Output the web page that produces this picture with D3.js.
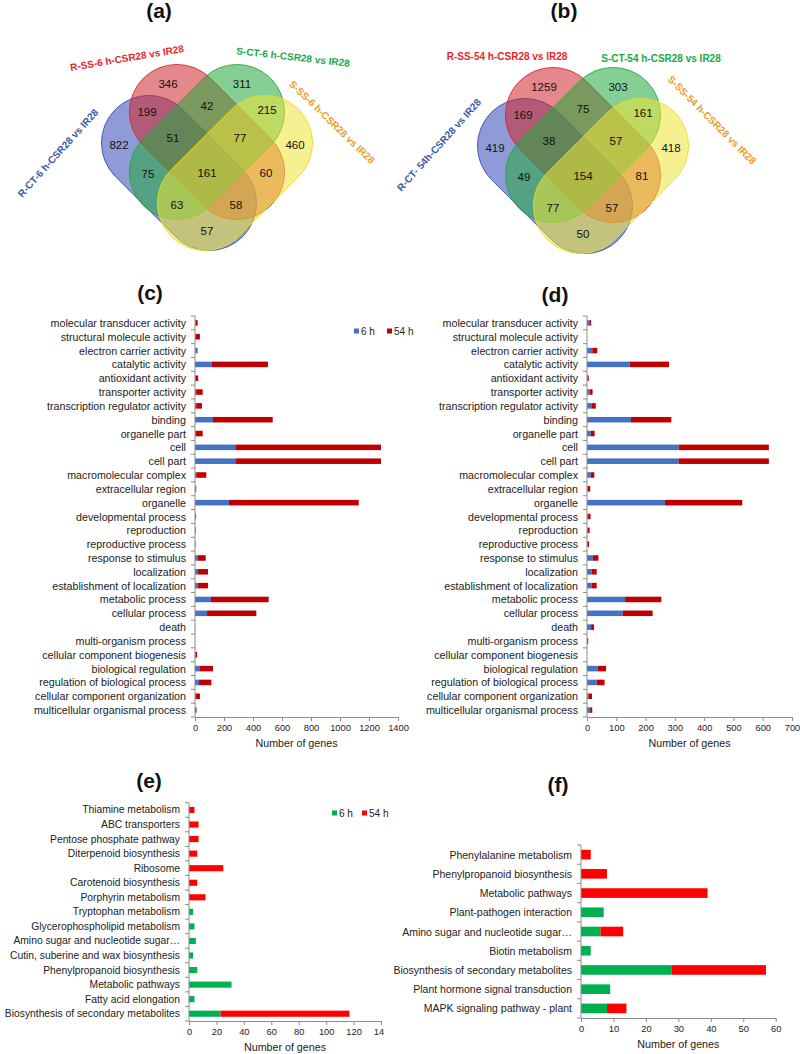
<!DOCTYPE html>
<html>
<head>
<meta charset="utf-8">
<script src="https://cdn.jsdelivr.net/npm/d3@7"></script>
<style>
  body { margin: 0; background: #fff; }
  svg { display: block; font-family: "Liberation Sans", Arial, sans-serif; }
</style>
</head>
<body>
<svg id="fig" width="800" height="1054"></svg>
<script>
// ---------- data ----------
// venn regions: A = R-CT, B = R-SS, C = S-CT, D = S-SS
const vennRegions = ["A", "B", "C", "D", "AB", "BC", "CD", "AC", "BD", "AD", "ABC", "BCD", "ACD", "ABD", "ABCD"];
const vennCountsA = [822, 346, 311, 460, 199, 42, 215, 75, 60, 57, 51, 77, 63, 58, 161];
const vennCountsB = [419, 1259, 303, 418, 169, 75, 161, 49, 81, 50, 38, 57, 77, 57, 154];
const vennSetNamesA = ["R-CT-6 h-CSR28 vs IR28", "R-SS-6 h-CSR28 vs IR28", "S-CT-6 h-CSR28 vs IR28", "S-SS-6 h-CSR28 vs IR28"];
const vennSetNamesB = ["R-CT- 54h-CSR28 vs IR28", "R-SS-54 h-CSR28 vs IR28", "S-CT-54 h-CSR28 vs IR28", "S-SS-54 h-CSR28 vs IR28"];

const goCategories = [
  "molecular transducer activity", "structural molecule activity", "electron carrier activity",
  "catalytic activity", "antioxidant activity", "transporter activity", "transcription regulator activity",
  "binding", "organelle part", "cell", "cell part", "macromolecular complex", "extracellular region",
  "organelle", "developmental process", "reproduction", "reproductive process", "response to stimulus",
  "localization", "establishment of localization", "metabolic process", "cellular process", "death",
  "multi-organism process", "cellular component biogenesis", "biological regulation",
  "regulation of biological process", "cellular component organization", "multicellular organismal process"
];
const go6hC  = [3, 2, 15, 117, 2, 8, 8, 124, 5, 278, 278, 9, 8, 234, 8, 6, 5, 18, 21, 21, 110, 83, 2, 1, 2, 30, 28, 4, 12];
const go54hC = [15, 32, 3, 386, 20, 45, 40, 412, 48, 1005, 1005, 69, 1, 895, 0, 0, 0, 56, 69, 69, 398, 340, 0, 0, 12, 94, 85, 30, 0];
const go6hD  = [8, 0, 18, 146, 1, 9, 15, 150, 13, 313, 313, 13, 2, 266, 4, 2, 1, 20, 16, 16, 130, 122, 14, 0, 0, 36, 33, 5, 11];
const go54hD = [6, 0, 17, 134, 5, 10, 15, 138, 13, 308, 308, 12, 9, 264, 8, 7, 6, 19, 17, 17, 124, 102, 10, 4, 0, 29, 27, 12, 7];

const keggCatsE = [
  "Thiamine metabolism", "ABC transporters", "Pentose phosphate pathway", "Diterpenoid biosynthesis",
  "Ribosome", "Carotenoid biosynthesis", "Porphyrin metabolism", "Tryptophan metabolism",
  "Glycerophospholipid metabolism", "Amino sugar and nucleotide sugar\u2026", "Cutin, suberine and wax biosynthesis",
  "Phenylpropanoid biosynthesis", "Metabolic pathways", "Fatty acid elongation", "Biosynthesis of secondary metabolites"
];
const kegg6hE  = [0, 0, 0, 0, 0, 0, 0, 3, 4, 5, 3, 6, 31, 4, 23];
const kegg54hE = [4, 7, 7, 6, 25, 6, 12, 0, 0, 0, 0, 0, 0, 0, 94];

const keggCatsF = [
  "Phenylalanine metabolism", "Phenylpropanoid biosynthesis", "Metabolic pathways", "Plant-pathogen interaction",
  "Amino sugar and nucleotide sugar\u2026", "Biotin metabolism", "Biosynthesis of secondary metabolites",
  "Plant hormone signal transduction", "MAPK signaling pathway - plant"
];
const kegg6hF  = [0, 0, 0, 7, 6, 3, 28, 9, 8];
const kegg54hF = [3, 8, 39, 0, 7, 0, 29, 0, 6];

const ticksC = d3.range(0, 1401, 200);
const ticksD = d3.range(0, 701, 100);
const ticksE = d3.range(0, 141, 20);
const ticksF = d3.range(0, 61, 10);

// ---------- drawing ----------
const svg = d3.select("#fig");
const textCol = "#222";
const axisCol = "#8c8c8c";

function title(txt, x, y) {
  svg.append("text").attr("x", x).attr("y", y).attr("text-anchor", "middle")
    .attr("font-size", "21px").attr("font-weight", "bold").attr("fill", "#111").text(txt);
}

// region label offsets from the venn centre (layout only)
const regionPos = {
  A: [-88, -28], B: [-39, -89], C: [35, -89], D: [88, -28],
  AB: [-60, -61], BC: [0, -67], CD: [60, -63],
  AC: [-59, 1], BD: [59, 0], AD: [0, 58],
  ABC: [-34, -35], BCD: [33, -35], ACD: [-30, 32], ABD: [29, 32], ABCD: [0, 0]
};

function venn(cx, cy, counts, names, labelLayout) {
  var g = svg.append("g").attr("transform", "translate(" + cx + "," + cy + ")");
  var r = 47.5, h = 42.5;
  var shapes = [
    { dx: -28, dy: 0,   rot: 45,  fill: "#3349b5", stroke: "#3349b5" },
    { dx: 0,   dy: -31, rot: 45,  fill: "#d0262c", stroke: "#d0262c" },
    { dx: 0,   dy: -31, rot: -45, fill: "#22a83c", stroke: "#22a83c" },
    { dx: 28,  dy: 0,   rot: -45, fill: "#eee436", stroke: "#e8dc20" }
  ];
  g.selectAll("rect.set").data(shapes).enter().append("rect")
    .attr("class", "set")
    .attr("x", -(h + r)).attr("y", -r)
    .attr("width", 2 * (h + r)).attr("height", 2 * r)
    .attr("rx", r).attr("ry", r)
    .attr("transform", function(d) { return "translate(" + d.dx + "," + d.dy + ") rotate(" + d.rot + ")"; })
    .attr("fill", function(d) { return d.fill; })
    .attr("fill-opacity", 0.55)
    .attr("stroke", function(d) { return d.stroke; })
    .attr("stroke-width", 0.8);

  g.selectAll("text.count").data(vennRegions).enter().append("text")
    .attr("class", "count")
    .attr("x", function(d) { return regionPos[d][0]; })
    .attr("y", function(d) { return regionPos[d][1]; })
    .attr("text-anchor", "middle").attr("dominant-baseline", "central")
    .attr("font-size", "11.5px").attr("fill", "#111")
    .text(function(d, i) { return counts[i]; });

  var setCols = ["#3b5aa6", "#e8262b", "#1aa84b", "#f39a1e"];
  g.selectAll("text.setname").data(names).enter().append("text")
    .attr("class", "setname")
    .attr("transform", function(d, i) { var l = labelLayout[i]; return "translate(" + l[0] + "," + l[1] + ") rotate(" + l[2] + ")"; })
    .attr("text-anchor", "middle").attr("dominant-baseline", "central")
    .attr("font-size", "10px").attr("font-weight", "bold")
    .attr("fill", function(d, i) { return setCols[i]; })
    .text(function(d) { return d; });
}

function barPanel(o) {
  var g = svg.append("g");
  var x = d3.scaleLinear().domain([0, o.max]).range([o.x0, o.x1]);
  var y = d3.scaleBand().domain(o.cats).range([o.top, o.bottom]).paddingInner(o.pad).paddingOuter(o.pad / 2);
  var rows = o.cats.map(function(c, i) { return { cat: c, a: o.v1[i], b: o.v2[i] }; });
  var fs = o.fontSize || 10.7;

  g.selectAll("rect.a").data(rows).enter().append("rect")
    .attr("x", x(0)).attr("y", function(d) { return y(d.cat); })
    .attr("width", function(d) { return x(d.a) - x(0); })
    .attr("height", y.bandwidth()).attr("fill", o.c1);
  g.selectAll("rect.b").data(rows).enter().append("rect")
    .attr("x", function(d) { return x(d.a); }).attr("y", function(d) { return y(d.cat); })
    .attr("width", function(d) { return x(d.a + d.b) - x(d.a); })
    .attr("height", y.bandwidth()).attr("fill", o.c2);

  // category labels
  g.selectAll("text.cat").data(rows).enter().append("text")
    .attr("x", o.x0 - 9).attr("y", function(d) { return y(d.cat) + y.bandwidth() / 2; })
    .attr("text-anchor", "end").attr("dominant-baseline", "central")
    .attr("font-size", fs + "px").attr("fill", textCol)
    .text(function(d) { return d.cat; });

  // y axis line and category separator ticks
  var step = y.step();
  g.append("line").attr("x1", o.x0).attr("x2", o.x0).attr("y1", o.top).attr("y2", o.bottom)
    .attr("stroke", axisCol).attr("stroke-width", 1);
  g.selectAll("line.sep").data(d3.range(o.cats.length + 1)).enter().append("line")
    .attr("x1", o.x0 - 4).attr("x2", o.x0)
    .attr("y1", function(i) { return o.top + i * step; })
    .attr("y2", function(i) { return o.top + i * step; })
    .attr("stroke", axisCol).attr("stroke-width", 1);

  // x axis
  var ax = g.append("g").attr("transform", "translate(0," + o.bottom + ")")
    .call(d3.axisBottom(x).tickValues(o.ticks).tickFormat(d3.format("d")).tickSize(4).tickSizeOuter(0));
  ax.select(".domain").attr("stroke", axisCol);
  ax.selectAll(".tick line").attr("stroke", axisCol);
  ax.selectAll(".tick text").attr("font-size", "9.3px").attr("fill", textCol)
    .attr("font-family", "Liberation Sans, Arial, sans-serif");
  if (o.clip) {
    svg.append("clipPath").attr("id", o.clip.id).append("rect")
      .attr("x", 0).attr("y", 0).attr("width", o.clip.right).attr("height", 1054);
    ax.attr("clip-path", "url(#" + o.clip.id + ")");
  }
  g.append("text").attr("x", (o.x0 + o.x1) / 2).attr("y", o.bottom + 30)
    .attr("text-anchor", "middle").attr("font-size", "10.7px").attr("fill", textCol)
    .text("Number of genes");

  if (o.legend) {
    var lg = g.append("g").attr("transform", "translate(" + o.legend[0] + "," + o.legend[1] + ")");
    var items = [{ t: "6 h", c: o.c1, dx: 0 }, { t: "54 h", c: o.c2, dx: o.legend[2] }];
    items.forEach(function(it) {
      lg.append("rect").attr("x", it.dx).attr("y", -2.5).attr("width", 5).attr("height", 5).attr("fill", it.c);
      lg.append("text").attr("x", it.dx + 7).attr("y", 0).attr("dominant-baseline", "central")
        .attr("font-size", "10px").attr("fill", textCol).text(it.t);
    });
  }
}

// titles
title("(a)", 159, 18);
title("(b)", 564, 18);
title("(c)", 150, 300);
title("(d)", 555, 302);
title("(e)", 149, 788);
title("(f)", 558, 792);

// venn diagrams
venn(207, 173, vennCountsA, vennSetNamesA,
  [[-149, -20, -48], [-80, -115, -9.6], [86, -116, 6.4], [125, -51, 44]]);
venn(583, 176, vennCountsB, vennSetNamesB,
  [[-144, -31, -48], [-76, -120, 0], [78, -118, 0], [129, -56, 45]]);

// GO bar charts
barPanel({ cats: goCategories, v1: go6hC, v2: go54hC, c1: "#4472c4", c2: "#c00000",
  x0: 195, x1: 398, max: 1400, ticks: ticksC, top: 316, bottom: 717, pad: 0.6,
  legend: [354, 331, 33] });
barPanel({ cats: goCategories, v1: go6hD, v2: go54hD, c1: "#4472c4", c2: "#c00000",
  x0: 587, x1: 792, max: 700, ticks: ticksD, top: 316, bottom: 717, pad: 0.6 });

// KEGG bar charts
barPanel({ cats: keggCatsE, v1: kegg6hE, v2: kegg54hE, c1: "#00b050", c2: "#ff0000",
  x0: 189, x1: 381, max: 140, ticks: ticksE, top: 802.7, bottom: 1021, pad: 0.58, fontSize: 10.3,
  legend: [332, 813, 30], clip: { id: "clipE", right: 384 } });
barPanel({ cats: keggCatsF, v1: kegg6hF, v2: kegg54hF, c1: "#00b050", c2: "#ff0000",
  x0: 581, x1: 775.7, max: 60, ticks: ticksF, top: 845, bottom: 1018, pad: 0.5, fontSize: 10.5 });
</script>
</body>
</html>
